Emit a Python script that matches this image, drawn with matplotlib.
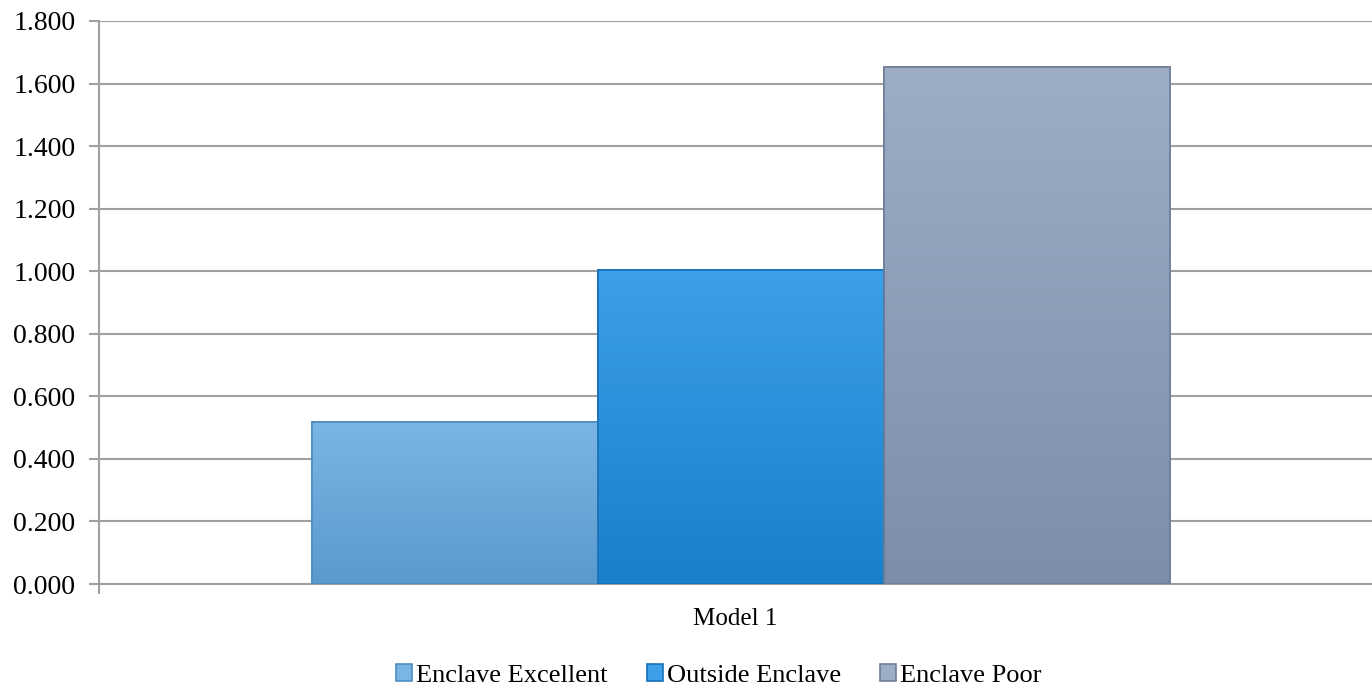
import numpy as np
import matplotlib.pyplot as plt
from matplotlib.colors import LinearSegmentedColormap
from matplotlib.ticker import FuncFormatter

# Data
categories = ['Model 1']
series = ['Enclave Excellent', 'Outside Enclave', 'Enclave Poor']
values = [0.518, 1.003, 1.653]
yticks = [0.0, 0.2, 0.4, 0.6, 0.8, 1.0, 1.2, 1.4, 1.6, 1.8]

# top / bottom colours of each bar's gradient
top_colors = ['#7bb5e3', '#3b9fe9', '#9dadc6']
bot_colors = ['#5a9acf', '#1a7fcb', '#7e8da8']
edge_colors = ['#4f8cc0', '#1670b8', '#6f7e98']

plt.rcParams['font.family'] = ['Liberation Serif', 'DejaVu Serif']

fig = plt.figure(figsize=(13.72, 6.91), dpi=100)
ax = fig.add_axes([99 / 1372, 1 - 584 / 691, 1 - 99 / 1372, (584 - 21) / 691])

width = 0.2247
x = np.arange(len(categories))
offsets = (np.arange(len(series)) - 1) * width + 0.004

for i, name in enumerate(series):
    bars = ax.bar(x + offsets[i], [values[i]], width, facecolor=top_colors[i],
                  edgecolor=edge_colors[i], linewidth=1.2, label=name, zorder=3)
    cmap = LinearSegmentedColormap.from_list('g%d' % i, [bot_colors[i], top_colors[i]])
    for b in bars:
        x0, y0 = b.get_x(), b.get_y()
        grad = np.linspace(0, 1, 256).reshape(-1, 1)
        im = ax.imshow(grad, cmap=cmap, origin='lower', aspect='auto',
                       extent=(x0, x0 + b.get_width(), y0, y0 + b.get_height()),
                       zorder=3.2)
        im.set_clip_path(b)
        # outline on top of the gradient
        ax.add_patch(plt.Rectangle((x0, y0), b.get_width(), b.get_height(),
                                   fill=False, edgecolor=edge_colors[i],
                                   linewidth=1.2, zorder=3.4))

ax.set_xlim(-0.5, 0.5)
ax.set_ylim(0, 1.8)
ax.set_yticks(yticks)
ax.yaxis.set_major_formatter(FuncFormatter(lambda v, p: '%.3f' % v))
ax.grid(axis='y', color='#a0a0a0', linewidth=1.5, zorder=0)
ax.set_axisbelow(True)

ax.set_xticks([-0.5])
ax.set_xticklabels([''])
ax.text(0.5, -0.062, categories[0], ha='center', va='center', fontsize=18,
        transform=ax.transAxes)

for s in ['top', 'right']:
    ax.spines[s].set_visible(False)
for s in ['left', 'bottom']:
    ax.spines[s].set_color('#a0a0a0')
    ax.spines[s].set_linewidth(1.5)
ax.tick_params(axis='both', colors='#a0a0a0', width=1.5, length=7,
               labelcolor='black', labelsize=20)
ax.tick_params(axis='y', pad=10)

leg = ax.legend(loc='center', bbox_to_anchor=(0.487, -0.163), ncol=3,
                frameon=False, fontsize=19, handlelength=0.6, handleheight=0.6,
                handletextpad=0.15, columnspacing=1.5)

fig.savefig('out.png', dpi=100)
